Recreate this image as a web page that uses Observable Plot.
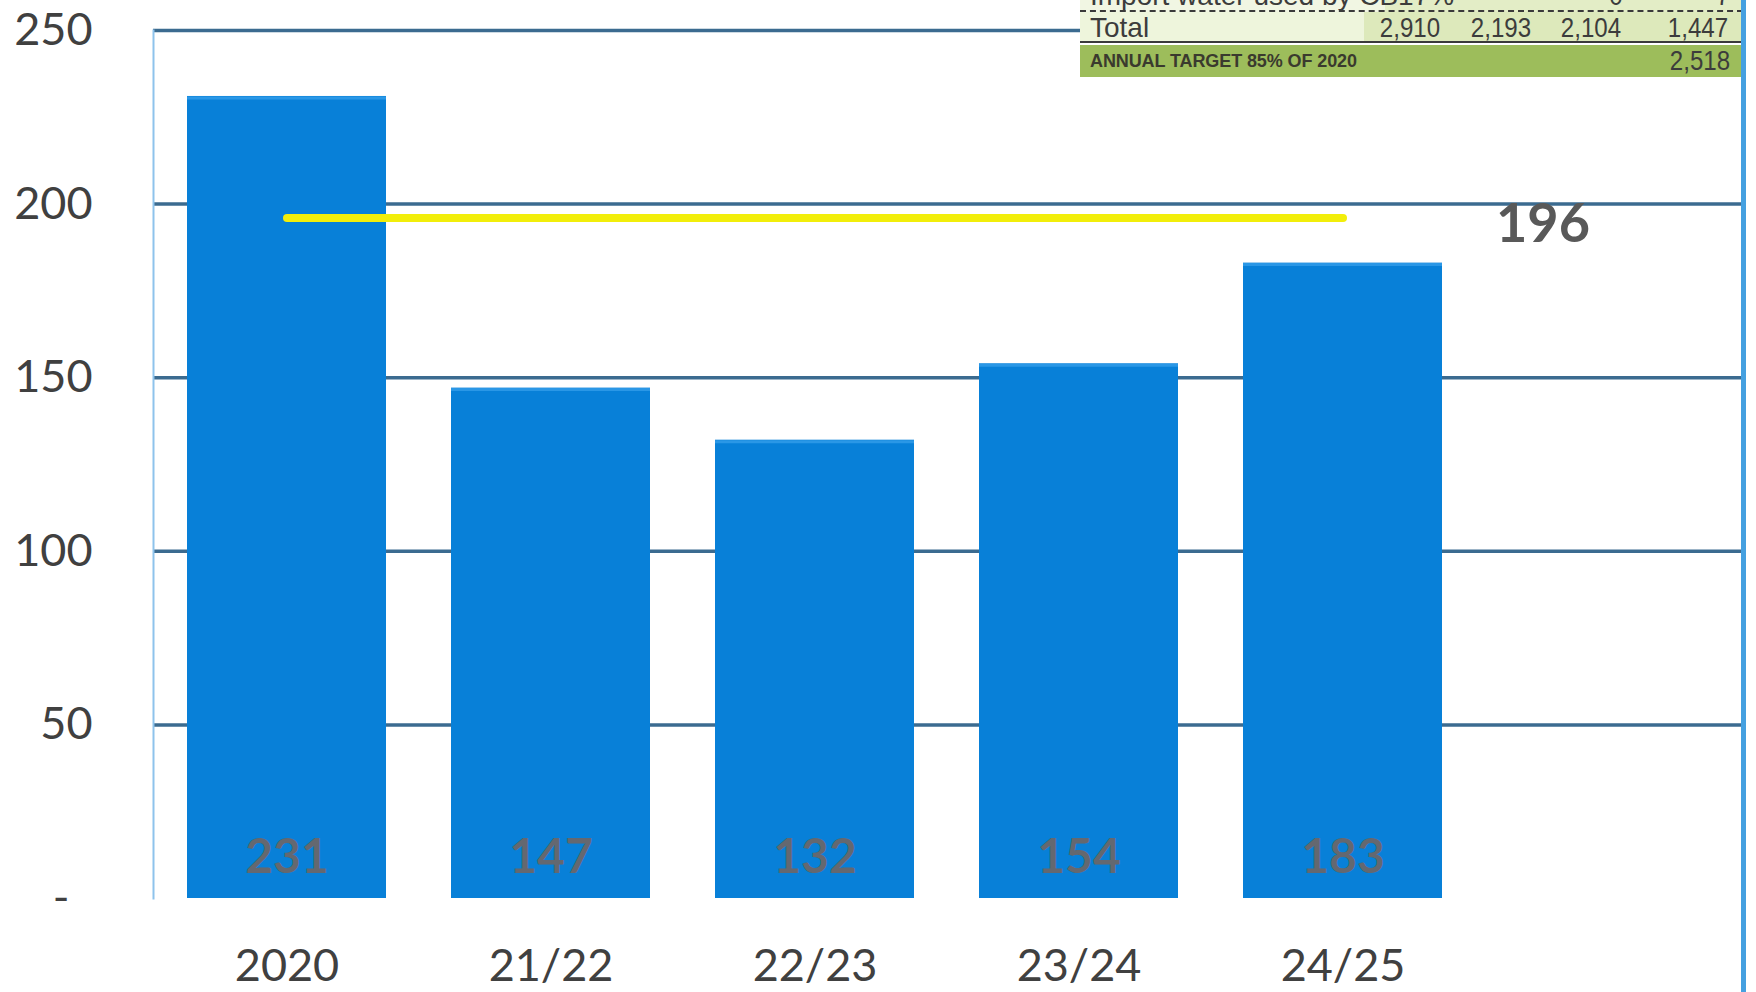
<!DOCTYPE html>
<html>
<head>
<meta charset="utf-8">
<script src="https://cdn.jsdelivr.net/npm/d3@7"></script>
<script src="https://cdn.jsdelivr.net/npm/@observablehq/plot@0.6"></script>
<style>
  html, body { margin: 0; padding: 0; background: #fff; }
  #wrap { position: relative; width: 1756px; height: 992px; overflow: hidden; }
  #rightBorder { position: absolute; left: 1741px; top: 0; width: 5px; height: 992px; background: #45a0e0; }
  #tbl { position: absolute; left: 1080px; top: 0; width: 663px; height: 78px;
         font-family: "Liberation Sans Narrow", "Arial Narrow", "Liberation Sans", sans-serif; color: #3c3c3c; }
  .row { position: absolute; left: 0; width: 663px; overflow: hidden; }
  .cut { top: 0; height: 10px; background: linear-gradient(to right, #f1f6e3 0, #f1f6e3 46%, #e3edc6 46%, #e3edc6 100%);
         border-bottom: 2px dashed #3a3a3a; }
  .total { top: 12px; height: 31px; background: linear-gradient(to right, #eef5dc 0, #eef5dc 43%, #dde9bb 43%, #dde9bb 100%);
           border-bottom: 2px solid #3a3a3a; border-right: 2px solid #3a3a3a; box-sizing: border-box; }
  .target { top: 45px; height: 32px; background: #9dbd5b; }
  .cell { position: absolute; white-space: nowrap; font-size: 28px; line-height: 31px; }
  .val { transform: scaleX(0.86); transform-origin: right center; }
  .cut .cell { top: -20px; }
  .target .lbl { font-size: 18px; font-weight: bold; line-height: 32px; letter-spacing: -0.1px; color: #3a3a2e; }
  .target .cell { line-height: 32px; }
</style>
</head>
<body>
<div id="wrap">
  <div id="chart"></div>
  <div id="tbl"></div>
  <div id="rightBorder"></div>
</div>
<script>
// ---- data ----
const categories = ["2020", "21/22", "22/23", "23/24", "24/25"];
const values = [231, 147, 132, 154, 183];
const target = 196;
const spacer = "";                       // empty sixth slot holding the target label
const yTicks = [0, 50, 100, 150, 200, 250];

// table overlay text
const cutRowLabel = "Import water used by CB17%";
const cutRowValues = ["", "", "0", "7"];
const totalLabel = "Total";
const totalValues = ["2,910", "2,193", "2,104", "1,447"];
const targetLabel = "ANNUAL TARGET 85% OF 2020";
const targetValue = "2,518";

const data = categories.map((c, i) => ({cat: c, value: values[i]}));
const targetLine = categories.map(c => ({cat: c, y: target}));

const chart = Plot.plot({
  width: 1756,
  height: 992,
  marginLeft: 153,
  marginRight: 15,
  marginTop: 30,
  marginBottom: 94,
  style: {fontFamily: "Lato, 'Noto Sans', sans-serif", color: "#404040", background: "transparent"},
  x: {domain: [...categories, spacer], paddingInner: 0.245, paddingOuter: 0.1225, label: null},
  y: {domain: [0, 250], label: null},
  marks: [
    Plot.ruleY(yTicks.filter(d => d > 0), {stroke: "#3b6b90", strokeWidth: 3.5}),
    Plot.frame({anchor: "left", stroke: "#8ec3ec", strokeWidth: 2}),
    Plot.barY(data, {x: "cat", y: "value", fill: "#0880d8"}),
    Plot.tickY(data, {x: "cat", y: "value", stroke: "#2a97e6", strokeWidth: 3, dy: 1.5}),
    Plot.lineY(targetLine, {x: "cat", y: "y", stroke: "#f2ee0a", strokeWidth: 8, strokeLinecap: "round"}),
    Plot.text(data, {x: "cat", frameAnchor: "bottom", dy: -26, text: d => String(d.value),
                     fontSize: 48, fontWeight: "bold", fill: "#646870"}),
    Plot.text([target], {x: () => spacer, y: d => d, text: d => String(d), dx: -64, dy: 7,
                         fontSize: 54, fontWeight: "bold", fill: "#595959"}),
    Plot.axisY({ticks: yTicks, tickSize: 0, tickPadding: 61, fontSize: 45,
                tickFormat: d => d === 0 ? "-\u00a0\u00a0" : String(d)}),
    Plot.axisX({ticks: categories, tickSize: 0, tickPadding: 51, fontSize: 45})
  ]
});
document.getElementById("chart").appendChild(chart);

// table overlay
const colRight = [663 - 362, 663 - 453, 663 - 543, 663 - 650];
const tbl = document.getElementById("tbl");
function row(cls, label, vals, lblClass) {
  const r = document.createElement("div");
  r.className = "row " + cls;
  const l = document.createElement("div");
  l.className = "cell " + (lblClass || "");
  l.style.left = "10px";
  l.textContent = label;
  r.appendChild(l);
  vals.forEach((v, i) => {
    if (!v) return;
    const c = document.createElement("div");
    c.className = "cell val";
    c.style.right = colRight[i] + "px";
    c.textContent = v;
    r.appendChild(c);
  });
  tbl.appendChild(r);
}
row("cut", cutRowLabel, cutRowValues);
row("total", totalLabel, totalValues);
row("target", targetLabel, ["", "", "", targetValue], "lbl");
</script>
</body>
</html>
